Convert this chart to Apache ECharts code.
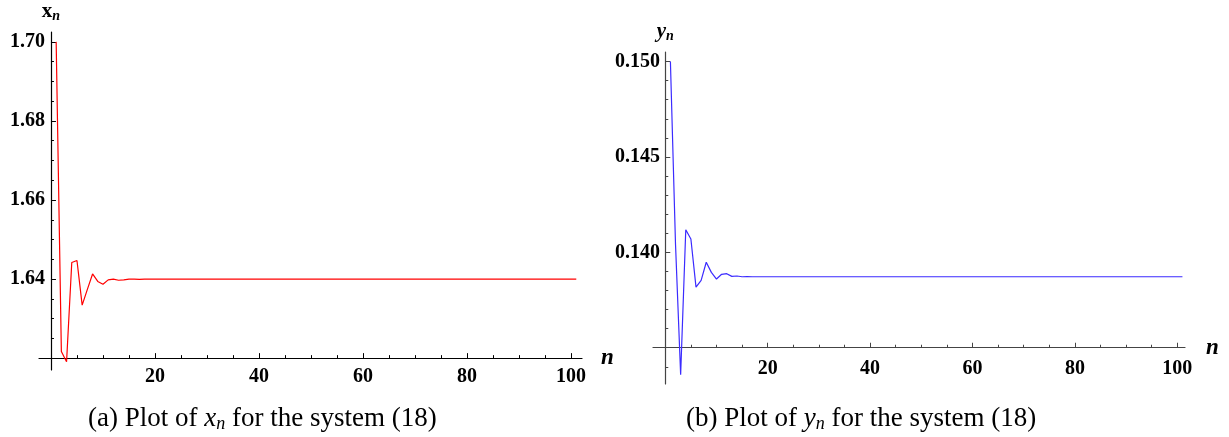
<!DOCTYPE html>
<html><head><meta charset="utf-8">
<script src="https://cdn.jsdelivr.net/npm/echarts@6/dist/echarts.min.js"></script>
<style>html,body{margin:0;padding:0;background:#fff}#c{width:1229px;height:437px}</style>
</head><body><div id="c"></div>
<script>
// ---- data ----
// x_n for n = 1..101
const xValues = [
  1.7000, 1.6217, 1.6191, 1.6442, 1.6447, 1.6334, 1.6374, 1.6413, 1.6394, 1.6387,
  1.6398, 1.6400, 1.6397, 1.6398, 1.6400, 1.6400, 1.6399, 1.6400, 1.6400, 1.6400,
  1.6400, 1.6400, 1.6400, 1.6400, 1.6400, 1.6400, 1.6400, 1.6400, 1.6400, 1.6400,
  1.6400, 1.6400, 1.6400, 1.6400, 1.6400, 1.6400, 1.6400, 1.6400, 1.6400, 1.6400,
  1.6400, 1.6400, 1.6400, 1.6400, 1.6400, 1.6400, 1.6400, 1.6400, 1.6400, 1.6400,
  1.6400, 1.6400, 1.6400, 1.6400, 1.6400, 1.6400, 1.6400, 1.6400, 1.6400, 1.6400,
  1.6400, 1.6400, 1.6400, 1.6400, 1.6400, 1.6400, 1.6400, 1.6400, 1.6400, 1.6400,
  1.6400, 1.6400, 1.6400, 1.6400, 1.6400, 1.6400, 1.6400, 1.6400, 1.6400, 1.6400,
  1.6400, 1.6400, 1.6400, 1.6400, 1.6400, 1.6400, 1.6400, 1.6400, 1.6400, 1.6400,
  1.6400, 1.6400, 1.6400, 1.6400, 1.6400, 1.6400, 1.6400, 1.6400, 1.6400, 1.6400,
  1.6400
];
// y_n for n = 1..101
const yValues = [
  0.15000, 0.14040, 0.13358, 0.14118, 0.14070, 0.13818, 0.13853, 0.13948, 0.13895, 0.13860,
  0.13885, 0.13888, 0.13874, 0.13876, 0.13872, 0.13873, 0.13872, 0.13872, 0.13872, 0.13872,
  0.13872, 0.13872, 0.13872, 0.13872, 0.13872, 0.13872, 0.13872, 0.13872, 0.13872, 0.13872,
  0.13872, 0.13872, 0.13872, 0.13872, 0.13872, 0.13872, 0.13872, 0.13872, 0.13872, 0.13872,
  0.13872, 0.13872, 0.13872, 0.13872, 0.13872, 0.13872, 0.13872, 0.13872, 0.13872, 0.13872,
  0.13872, 0.13872, 0.13872, 0.13872, 0.13872, 0.13872, 0.13872, 0.13872, 0.13872, 0.13872,
  0.13872, 0.13872, 0.13872, 0.13872, 0.13872, 0.13872, 0.13872, 0.13872, 0.13872, 0.13872,
  0.13872, 0.13872, 0.13872, 0.13872, 0.13872, 0.13872, 0.13872, 0.13872, 0.13872, 0.13872,
  0.13872, 0.13872, 0.13872, 0.13872, 0.13872, 0.13872, 0.13872, 0.13872, 0.13872, 0.13872,
  0.13872, 0.13872, 0.13872, 0.13872, 0.13872, 0.13872, 0.13872, 0.13872, 0.13872, 0.13872,
  0.13872
];
const nMajorTicks = [20, 40, 60, 80, 100];
const nMinorTicks = [5, 10, 15, 25, 30, 35, 45, 50, 55, 65, 70, 75, 85, 90, 95];
const xMajorTicks = [1.64, 1.66, 1.68, 1.70];
const xMinorTicks = [1.625, 1.63, 1.635, 1.645, 1.65, 1.655, 1.665, 1.67, 1.675, 1.685, 1.69, 1.695];
const yMajorTicks = [0.140, 0.145, 0.150];
const yMinorTicks = [0.134, 0.136, 0.137, 0.138, 0.139, 0.141, 0.142, 0.143, 0.144, 0.146, 0.147, 0.148, 0.149];
const xAxisCross = 1.62;   // value where the n-axis crosses, left plot
const yAxisCross = 0.135;  // value where the n-axis crosses, right plot
const captionA = ['(a) Plot of ', 'x', 'n', ' for the system (18)'];
const captionB = ['(b) Plot of ', 'y', 'n', ' for the system (18)'];

// ---- layout ----
const G = [
  {left: 39, top: 32, width: 543, height: 338, xmin: -2.3, xmax: 102.1, ymin: 1.617, ymax: 1.7025, cross: xAxisCross, color: '#000', lblMargin: -6},
  {left: 653, top: 52, width: 532, height: 332, xmin: -2.4, xmax: 101.5, ymin: 0.1331, ymax: 0.1505, cross: yAxisCross, color: '#444', lblMargin: -7}
];
const FONT = 'Liberation Serif';
const lblStyle = {fontFamily: FONT, fontWeight: 'bold', fontSize: 20, color: '#000'};

function xAxes(gi, nameGap, margin) {
  const g = G[gi];
  const off = -(g.cross - g.ymin) / (g.ymax - g.ymin) * g.height;
  const base = {type: 'value', gridIndex: gi, min: g.xmin, max: g.xmax, position: 'bottom', offset: off,
    splitLine: {show: false}};
  return [
    Object.assign({}, base, {
      axisLine: {show: true, onZero: false, lineStyle: {color: g.color, width: 1.2}},
      axisTick: {show: true, inside: true, length: 5, customValues: nMajorTicks, lineStyle: {color: g.color, width: 1}},
      axisLabel: Object.assign({show: true, customValues: nMajorTicks, margin: margin}, lblStyle),
      name: 'n', nameLocation: 'end', nameGap: nameGap,
      nameTextStyle: {fontFamily: FONT, fontWeight: 'bold', fontStyle: 'italic', fontSize: 23, color: '#000',
        verticalAlign: 'middle', padding: [0, 0, 4, 0]}
    }),
    Object.assign({}, base, {
      axisLine: {show: false, onZero: false},
      axisTick: {show: true, inside: true, length: 3, customValues: nMinorTicks, lineStyle: {color: g.color, width: 1}},
      axisLabel: {show: false}
    })
  ];
}
function yAxes(gi, majors, minors, digits, nameRich, nameText) {
  const g = G[gi];
  const base = {type: 'value', gridIndex: gi, min: g.ymin, max: g.ymax, position: 'left', splitLine: {show: false}};
  return [
    Object.assign({}, base, {
      axisLine: {show: true, onZero: true, lineStyle: {color: g.color, width: 1.2}},
      axisTick: {show: true, inside: true, length: 5, customValues: majors, lineStyle: {color: g.color, width: 1}},
      axisLabel: Object.assign({show: true, customValues: majors, margin: g.lblMargin,
        formatter: v => Number(v).toFixed(digits)}, lblStyle),
      name: nameText, nameLocation: 'end', nameGap: 9,
      nameTextStyle: {rich: nameRich}
    }),
    Object.assign({}, base, {
      axisLine: {show: false, onZero: true},
      axisTick: {show: true, inside: true, length: 3, customValues: minors, lineStyle: {color: g.color, width: 1}},
      axisLabel: {show: false}
    })
  ];
}

const richX = {
  b: {fontFamily: FONT, fontWeight: 'bold', fontSize: 21, color: '#000'},
  s: {fontFamily: FONT, fontWeight: 'bold', fontStyle: 'italic', fontSize: 14, color: '#000', padding: [8, 0, 0, 0]}
};
const richY = {
  b: {fontFamily: FONT, fontWeight: 'bold', fontStyle: 'italic', fontSize: 21, color: '#000'},
  s: {fontFamily: FONT, fontWeight: 'bold', fontStyle: 'italic', fontSize: 14, color: '#000', padding: [8, 0, 0, 0]}
};

const seriesX = xValues.map((v, i) => [i + 1, v]);
const seriesY = yValues.map((v, i) => [i + 1, v]);

const capRich = {
  r: {fontFamily: FONT, fontSize: 27, color: '#222'},
  i: {fontFamily: FONT, fontStyle: 'italic', fontSize: 27, color: '#222'},
  s: {fontFamily: FONT, fontStyle: 'italic', fontSize: 18, color: '#222', padding: [11, 0, 0, 0]}
};
function capText(c) { return '{r|' + c[0] + '}{i|' + c[1] + '}{s|' + c[2] + '}{r|' + c[3] + '}'; }

const chart = echarts.init(document.getElementById('c'), null, {renderer: 'canvas'});
chart.setOption({
  animation: false,
  backgroundColor: '#fff',
  grid: G.map(g => ({left: g.left, top: g.top, width: g.width, height: g.height,
    containLabel: false, outerBoundsMode: 'none'})),
  xAxis: [].concat(xAxes(0, 19, 9), xAxes(1, 21, 11)),
  yAxis: [].concat(
    yAxes(0, xMajorTicks, xMinorTicks, 2, richX, '{b|x}{s|n}'),
    yAxes(1, yMajorTicks, yMinorTicks, 3, richY, '{b|y}{s|n}')
  ),
  series: [
    {type: 'line', xAxisIndex: 0, yAxisIndex: 0, data: seriesX, showSymbol: false,
     lineStyle: {color: '#ff0000', width: 1.2}, itemStyle: {color: '#ff0000'}},
    {type: 'line', xAxisIndex: 2, yAxisIndex: 2, data: seriesY, showSymbol: false,
     lineStyle: {color: '#3b2bff', width: 1.2}, itemStyle: {color: '#3b2bff'}}
  ],
  graphic: [
    {type: 'text', left: 88, top: 405, style: {text: capText(captionA), rich: capRich}},
    {type: 'text', left: 686, top: 405, style: {text: capText(captionB), rich: capRich}}
  ]
});
</script>
</body></html>
